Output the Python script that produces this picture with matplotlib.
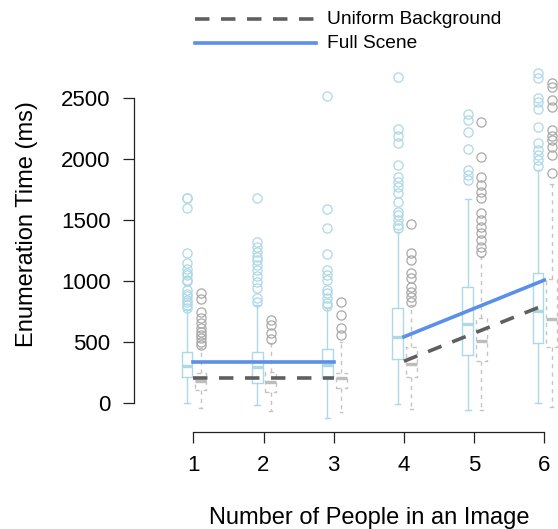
import matplotlib
matplotlib.use("Agg")
import matplotlib.pyplot as plt
from matplotlib.lines import Line2D

plt.rcParams['font.family'] = ['Liberation Sans', 'DejaVu Sans']

# Number of people shown in the image
people = [1, 2, 3, 4, 5, 6]

# Full-scene condition: box summaries (ms)
full_q1 = [218, 169, 205, 363, 396, 497]
full_med = [306, 295, 314, 546, 650, 759]
full_q3 = [423, 423, 442, 784, 956, 1066]
full_lo = [5, -10, -123, -8, -55, 5]
full_hi = [765, 806, 779, 1407, 1675, 1912]
full_out = [
    [780, 806, 830, 850, 880, 900, 930, 1000, 1011, 1050, 1066, 1100, 1153, 1230, 1603, 1680, 1685],
    [833, 861, 943, 997, 1044, 1093, 1134, 1175, 1202, 1243, 1284, 1325, 1680],
    [800, 820, 861, 902, 929, 1011, 1052, 1093, 1221, 1440, 1595, 2521],
    [1434, 1461, 1502, 1543, 1570, 1652, 1721, 1775, 1816, 1857, 1953, 2131, 2191, 2246, 2677],
    [1830, 1871, 1912, 2082, 2226, 2322, 2371],
    [1945, 1994, 2035, 2076, 2136, 2267, 2410, 2473, 2500, 2664, 2705],
]

# Uniform-background condition: box summaries (ms)
unif_q1 = [109, 95, 123, 218, 347, 464]
unif_med = [185, 177, 210, 320, 513, 688]
unif_q3 = [246, 259, 246, 459, 702, 1016]
unif_lo = [-40, -60, -68, -49, -55, -28]
unif_hi = [451, 492, 505, 806, 1202, 1798]
unif_out = [
    [478, 505, 533, 560, 587, 615, 656, 697, 751, 852, 902],
    [525, 574, 642, 683],
    [560, 620, 724, 833],
    [833, 874, 915, 956, 1025, 1066, 1175, 1235, 1470],
    [1243, 1284, 1339, 1393, 1448, 1502, 1557, 1680, 1734, 1789, 1857, 2022, 2303],
    [1885, 2035, 2104, 2158, 2191, 2240, 2432, 2486, 2596, 2628],
]

# Fitted trends: flat for 1-3 people, rising for 4-6 people
full_fit_low = ([1, 3], [335, 335])
full_fit_high = ([4, 6], [545, 1010])
unif_fit_low = ([1, 3], [208, 208])
unif_fit_high = ([4, 6], [345, 805])

W, H = 558, 529
fig = plt.figure(figsize=(W / 100, H / 100), dpi=100)
ax = fig.add_axes([134 / W, 97 / H, 424 / W, 372 / H])

BLUE_BOX = "#add8e6"
GREY_BOX = "#c4c4c4"
GREY_MED = "#bdbdbd"
GREY_OUT = "#a9a9a9"
FIT_BLUE = "#5b8fe8"
FIT_GREY = "#5f5f5f"


def stats(q1, med, q3, lo, hi, out):
    return [dict(q1=a, med=b, q3=c, whislo=d, whishi=e, fliers=f)
            for a, b, c, d, e, f in zip(q1, med, q3, lo, hi, out)]


ax.bxp(stats(full_q1, full_med, full_q3, full_lo, full_hi, full_out),
       positions=[p - 0.09 for p in people], widths=0.155,
       showfliers=True, manage_ticks=False,
       boxprops=dict(color=BLUE_BOX, linewidth=1.0),
       whiskerprops=dict(color=BLUE_BOX, linewidth=1.0),
       capprops=dict(color=BLUE_BOX, linewidth=1.0),
       medianprops=dict(color=BLUE_BOX, linewidth=2.4, solid_capstyle='butt'),
       flierprops=dict(marker='o', markerfacecolor='none', markeredgecolor=BLUE_BOX,
                       markersize=6.6, markeredgewidth=0.9),
       capwidths=0.08)

ax.bxp(stats(unif_q1, unif_med, unif_q3, unif_lo, unif_hi, unif_out),
       positions=[p + 0.105 for p in people], widths=0.155,
       showfliers=True, manage_ticks=False,
       boxprops=dict(color=GREY_BOX, linewidth=1.0, linestyle=(0, (3, 3))),
       whiskerprops=dict(color=GREY_BOX, linewidth=1.0, linestyle=(0, (3, 3))),
       capprops=dict(color=GREY_BOX, linewidth=1.0),
       medianprops=dict(color=GREY_MED, linewidth=2.4, solid_capstyle='butt'),
       flierprops=dict(marker='o', markerfacecolor='none', markeredgecolor=GREY_OUT,
                       markersize=6.6, markeredgewidth=0.9),
       capwidths=0.04)

for xs, ys in (unif_fit_low, unif_fit_high):
    ax.plot(xs, ys, color=FIT_GREY, linewidth=2.6, linestyle=(0, (4, 3.2)), zorder=5)
for xs, ys in (full_fit_low, full_fit_high):
    ax.plot(xs, ys, color=FIT_BLUE, linewidth=2.6, zorder=6)

ax.set_xlim(0.155, 6.195)
ax.set_ylim(-235, 2814)

for s in ("top", "right"):
    ax.spines[s].set_visible(False)
ax.spines["left"].set_bounds(0, 2500)
ax.spines["bottom"].set_bounds(1, 6)
for s in ("left", "bottom"):
    ax.spines[s].set_color("#222222")
    ax.spines[s].set_linewidth(0.9)

ax.set_xticks(people)
ax.set_xticklabels([str(p) for p in people])
ax.set_yticks([0, 500, 1000, 1500, 2000, 2500])
ax.tick_params(axis="both", direction="out", length=8, width=0.9,
               color="#222222", labelsize=16)
ax.tick_params(axis="y", pad=9)
ax.tick_params(axis="x", pad=8.5)

fig.text(27 / W, 1 - 224 / H, "Enumeration Time (ms)", rotation=90,
         ha="center", va="center", fontsize=17)
fig.text(369 / W, 1 - 518 / H, "Number of People in an Image",
         ha="center", va="center", fontsize=17)

# Legend drawn above the plot area
fig.add_artist(Line2D([195 / W, 316 / W], [1 - 19 / H, 1 - 19 / H],
                      color=FIT_GREY, linewidth=2.6, linestyle=(0, (4, 3.2))))
fig.add_artist(Line2D([195 / W, 316 / W], [1 - 43 / H, 1 - 43 / H],
                      color=FIT_BLUE, linewidth=2.6))
fig.text(327 / W, 1 - 20 / H, "Uniform Background", ha="left", va="center", fontsize=13.8)
fig.text(327 / W, 1 - 44 / H, "Full Scene", ha="left", va="center", fontsize=13.8)

fig.savefig("out.png", dpi=100)
